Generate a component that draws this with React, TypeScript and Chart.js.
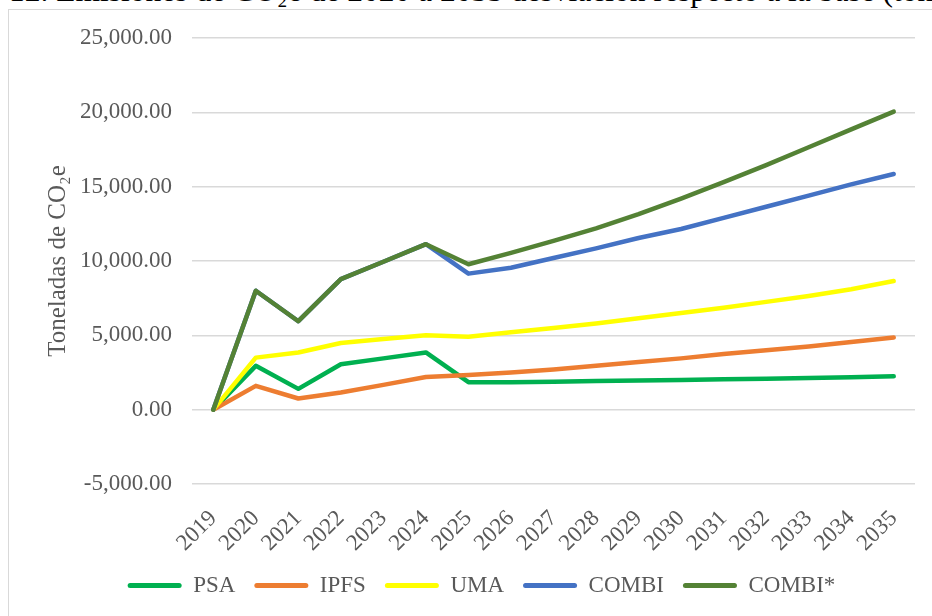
import React, { useEffect, useRef } from "react";
import { Chart, registerables } from "chart.js";

Chart.register(...registerables);

const years = ["2019", "2020", "2021", "2022", "2023", "2024", "2025", "2026", "2027", "2028", "2029", "2030", "2031", "2032", "2033", "2034", "2035"];
const psa = [0, 2950, 1400, 3050, 3450, 3850, 1850, 1850, 1880, 1920, 1960, 2000, 2040, 2080, 2130, 2180, 2250];
const ipfs = [0, 1600, 750, 1150, 1670, 2200, 2330, 2500, 2700, 2950, 3200, 3450, 3750, 4000, 4250, 4550, 4850];
const uma = [0, 3500, 3850, 4480, 4750, 5000, 4900, 5200, 5500, 5800, 6150, 6500, 6850, 7250, 7650, 8100, 8650];
const combi = [0, 8000, 5950, 8780, 9950, 11130, 9150, 9550, 10200, 10850, 11550, 12150, 12900, 13650, 14400, 15150, 15850];
const combiStar = [0, 8000, 5950, 8780, 9950, 11130, 9780, 10550, 11350, 12200, 13150, 14200, 15300, 16450, 17650, 18850, 20050];

const seriesNames = ["PSA", "IPFS", "UMA", "COMBI", "COMBI*"];
const seriesColors = ["#00B050", "#ED7D31", "#FFFF00", "#4472C4", "#548235"];
const seriesData = [psa, ipfs, uma, combi, combiStar];

const titleText = "Gráfico 12. Emisiones de CO₂e de 2020 a 2035 desviación respecto a la base (toneladas de CO₂e)";
const yTitle = "Toneladas de CO₂e";
const FONT = "'Liberation Serif', 'Times New Roman', serif";

export default function App() {
  const ref = useRef<HTMLCanvasElement | null>(null);

  useEffect(() => {
    if (!ref.current) return;
    const chart = new Chart(ref.current, {
      type: "line",
      data: {
        labels: years,
        datasets: seriesData.map((d, i) => ({
          label: seriesNames[i],
          data: d,
          borderColor: seriesColors[i],
          backgroundColor: seriesColors[i],
          borderWidth: 4.5,
          pointRadius: 0,
          pointHoverRadius: 0,
          tension: 0,
          borderCapStyle: "round" as const,
          borderJoinStyle: "round" as const,
          order: 5 - i,
        })),
      },
      options: {
        animation: false,
        responsive: false,
        maintainAspectRatio: false,
        layout: { padding: { left: 39, right: 39, top: 28, bottom: 13 } },
        plugins: {
          tooltip: { enabled: false },
          legend: {
            position: "bottom",
            labels: {
              font: { family: FONT, size: 23 },
              color: "#595959",
              boxWidth: 54,
              boxHeight: 5,
              padding: 19,
              useBorderRadius: true,
              borderRadius: 2.5,
              sort: (a: any, b: any) => a.datasetIndex - b.datasetIndex,
              generateLabels: (c: any) =>
                (Chart.defaults.plugins.legend.labels.generateLabels as any)(c).map((l: any) => ({ ...l, lineWidth: 0 })),
            },
          },
        },
        scales: {
          x: {
            type: "category",
            offset: true,
            grid: { display: false },
            border: { display: false },
            ticks: {
              color: "#595959",
              font: { family: FONT, size: 23 },
              minRotation: 45,
              maxRotation: 45,
              autoSkip: false,
              padding: 13,
            },
            afterFit: (s: any) => {
              s.height = 71;
            },
          },
          y: {
            min: -5000,
            max: 25000,
            grid: { color: "#d9d9d9", lineWidth: 1.5, drawTicks: true, tickLength: 12, tickColor: "rgba(0,0,0,0)" },
            border: { display: false },
            ticks: {
              stepSize: 5000,
              color: "#595959",
              font: { family: FONT, size: 23 },
              padding: 8,
              callback: (v: any) =>
                Number(v).toLocaleString("en-US", { minimumFractionDigits: 2, maximumFractionDigits: 2 }),
            },
            title: {
              display: true,
              text: yTitle,
              color: "#595959",
              font: { family: FONT, size: 25 },
              padding: { top: -5, bottom: 0 },
            },
            afterFit: (s: any) => {
              s.width = 144;
            },
          },
        },
      },
    });
    return () => chart.destroy();
  }, []);

  return (
    <div style={{ position: "absolute", left: 0, top: 0, width: 932, height: 616, overflow: "hidden", background: "#fff" }}>
      <div
        style={{
          position: "absolute",
          left: -95,
          top: -25,
          whiteSpace: "nowrap",
          fontFamily: FONT,
          fontSize: 31.5,
          lineHeight: "31px",
          color: "#000",
        }}
      >
        {titleText}
      </div>
      <div
        style={{
          position: "absolute",
          left: 8,
          top: 9,
          width: 945,
          height: 620,
          border: "1px solid #d9d9d9",
          background: "#fff",
        }}
      >
        <canvas ref={ref} width={945} height={610} style={{ display: "block", width: 945, height: 610 }} />
      </div>
    </div>
  );
}
